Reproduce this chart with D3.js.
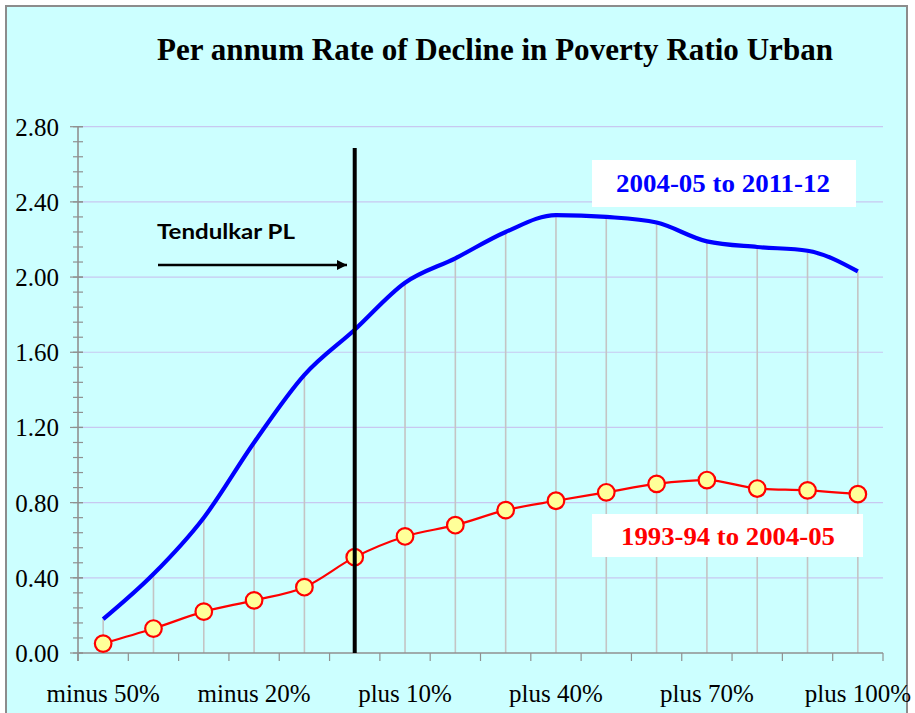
<!DOCTYPE html>
<html>
<head>
<meta charset="utf-8">
<script src="https://cdn.jsdelivr.net/npm/d3@7"></script>
<style>
  html, body { margin: 0; padding: 0; background: #ffffff; }
  svg { display: block; }
</style>
</head>
<body>
<svg id="chart" width="915" height="713"></svg>
<script>
// ---- data ----
const categories = ["minus 50%", "minus 40%", "minus 30%", "minus 20%", "minus 10%", "0%",
  "plus 10%", "plus 20%", "plus 30%", "plus 40%", "plus 50%", "plus 60%",
  "plus 70%", "plus 80%", "plus 90%", "plus 100%"];
const labelledCategories = ["minus 50%", "minus 20%", "plus 10%", "plus 40%", "plus 70%", "plus 100%"];
const series2004to2011 = [0.18, 0.42, 0.72, 1.12, 1.48, 1.72, 1.97, 2.10, 2.24, 2.33, 2.32, 2.29, 2.19, 2.16, 2.14, 2.03];
const series1993to2004 = [0.05, 0.13, 0.22, 0.28, 0.35, 0.51, 0.62, 0.68, 0.76, 0.81, 0.855, 0.90, 0.92, 0.875, 0.865, 0.845];
const yTicks = [0, 0.4, 0.8, 1.2, 1.6, 2.0, 2.4, 2.8];
const povertyLineCategory = "0%";
const titleText = "Per annum Rate of Decline in Poverty Ratio Urban";
const seriesNames = ["2004-05 to 2011-12", "1993-94 to 2004-05"];

(function () {
// ---- layout ----
const svg = d3.select("#chart");
const pL = 78, pR = 883, pT = 126.7, pB = 653;

svg.append("rect").attr("x", 6).attr("y", 6).attr("width", 901).attr("height", 740)
  .attr("fill", "#ccffff").attr("stroke", "#8c8c8c").attr("stroke-width", 2);

const x = d3.scaleBand().domain(categories).range([pL, pR]);
const y = d3.scaleLinear().domain([0, 2.8]).range([pB, pT]);
const cx = c => x(c) + x.bandwidth() / 2;

// title
svg.append("text").attr("x", 495).attr("y", 60).attr("text-anchor", "middle")
  .attr("font-family", "'Liberation Serif', 'Times New Roman', serif").attr("font-weight", "bold")
  .attr("font-size", 32).attr("textLength", 676).attr("lengthAdjust", "spacingAndGlyphs")
  .attr("fill", "#000").text(titleText);

// horizontal gridlines
svg.append("g").selectAll("line").data(yTicks.filter(d => d > 0)).join("line")
  .attr("x1", pL).attr("x2", pR).attr("y1", d => y(d)).attr("y2", d => y(d))
  .attr("stroke", "#c8c8f0").attr("stroke-width", 1.2);

// drop lines
svg.append("g").selectAll("line").data(categories).join("line")
  .attr("x1", d => cx(d)).attr("x2", d => cx(d))
  .attr("y1", (d, i) => y(Math.max(series2004to2011[i], series1993to2004[i])))
  .attr("y2", pB)
  .attr("stroke", "#c4c4c4").attr("stroke-width", 1.6);

// y axis with minor ticks
const yAxisG = svg.append("g");
const minor = d3.range(0, 2.8001, 0.08);
yAxisG.selectAll("line.minor").data(minor).join("line").attr("class", "minor")
  .attr("x1", pL - 5).attr("x2", pL + 5).attr("y1", d => y(d)).attr("y2", d => y(d))
  .attr("stroke", "#909090").attr("stroke-width", 1.2);
yAxisG.selectAll("line.major").data(yTicks).join("line").attr("class", "major")
  .attr("x1", pL - 8).attr("x2", pL + 5).attr("y1", d => y(d)).attr("y2", d => y(d))
  .attr("stroke", "#909090").attr("stroke-width", 1.2);
yAxisG.append("line").attr("x1", pL).attr("x2", pL).attr("y1", pT).attr("y2", pB + 8)
  .attr("stroke", "#909090").attr("stroke-width", 1.6);
yAxisG.selectAll("text").data(yTicks).join("text")
  .attr("x", 59).attr("y", d => y(d) + 9).attr("text-anchor", "end")
  .attr("font-family", "'Liberation Serif', 'Times New Roman', serif").attr("font-size", 25)
  .attr("fill", "#000").text(d3.format(".2f"));

// x axis
const xAxisG = svg.append("g");
xAxisG.append("line").attr("x1", pL).attr("x2", pR).attr("y1", pB).attr("y2", pB)
  .attr("stroke", "#909090").attr("stroke-width", 1.6);
const boundaries = categories.map(c => x(c)).concat([pR]);
xAxisG.selectAll("line.tick").data(boundaries).join("line").attr("class", "tick")
  .attr("x1", d => d).attr("x2", d => d).attr("y1", pB).attr("y2", pB + 8)
  .attr("stroke", "#909090").attr("stroke-width", 1.2);
xAxisG.selectAll("text").data(labelledCategories).join("text")
  .attr("x", d => cx(d)).attr("y", 702).attr("text-anchor", "middle")
  .attr("font-family", "'Liberation Serif', 'Times New Roman', serif").attr("font-size", 25)
  .attr("fill", "#000").text(d => d);

// lines
const lineGen = d3.line().x((d, i) => cx(categories[i])).y(d => y(d)).curve(d3.curveMonotoneX);
svg.append("path").datum(series2004to2011).attr("d", lineGen)
  .attr("fill", "none").attr("stroke", "#0000ff").attr("stroke-width", 4.2).attr("stroke-linejoin", "round");
svg.append("path").datum(series1993to2004).attr("d", lineGen)
  .attr("fill", "none").attr("stroke", "#ff0000").attr("stroke-width", 2.2);
svg.append("g").selectAll("circle").data(series1993to2004).join("circle")
  .attr("cx", (d, i) => cx(categories[i])).attr("cy", d => y(d)).attr("r", 8.3)
  .attr("fill", "#ffff99").attr("stroke", "#ff0000").attr("stroke-width", 2.2);

// poverty line marker
const plx = cx(povertyLineCategory);
svg.append("line").attr("x1", plx).attr("x2", plx).attr("y1", 148).attr("y2", pB)
  .attr("stroke", "#000").attr("stroke-width", 4);

// arrow + text
const defs = svg.append("defs");
defs.append("marker").attr("id", "arrow").attr("viewBox", "0 0 10 10").attr("refX", 10).attr("refY", 5)
  .attr("markerWidth", 4.2).attr("markerHeight", 4.2).attr("markerUnits", "strokeWidth").attr("orient", "auto")
  .append("path").attr("d", "M0,0 L10,5 L0,10 Z").attr("fill", "#000");
svg.append("line").attr("x1", 158).attr("x2", 347).attr("y1", 265).attr("y2", 265)
  .attr("stroke", "#000").attr("stroke-width", 2.5).attr("marker-end", "url(#arrow)");
svg.append("text").attr("x", 157).attr("y", 239)
  .attr("font-family", "Lato, 'Open Sans', sans-serif").attr("font-weight", "bold").attr("font-size", 21)
  .attr("textLength", 138).attr("lengthAdjust", "spacingAndGlyphs")
  .attr("fill", "#000").text("Tendulkar PL");

// series label boxes
const labels = [
  { name: seriesNames[0], color: "#0000ff", x0: 592, x1: 856, y0: 160, y1: 207, base: 192, cxT: 723 },
  { name: seriesNames[1], color: "#ff0000", x0: 592, x1: 863, y0: 514, y1: 557, base: 545, cxT: 728 }
];
labels.forEach(l => {
  svg.append("rect").attr("x", l.x0).attr("y", l.y0).attr("width", l.x1 - l.x0).attr("height", l.y1 - l.y0)
    .attr("fill", "#ffffff");
  svg.append("text").attr("x", l.cxT).attr("y", l.base).attr("text-anchor", "middle")
    .attr("font-family", "'Liberation Serif', 'Times New Roman', serif").attr("font-weight", "bold")
    .attr("font-size", 26).attr("textLength", 214).attr("lengthAdjust", "spacingAndGlyphs")
    .attr("fill", l.color).text(l.name);
});
})();
</script>
</body>
</html>
